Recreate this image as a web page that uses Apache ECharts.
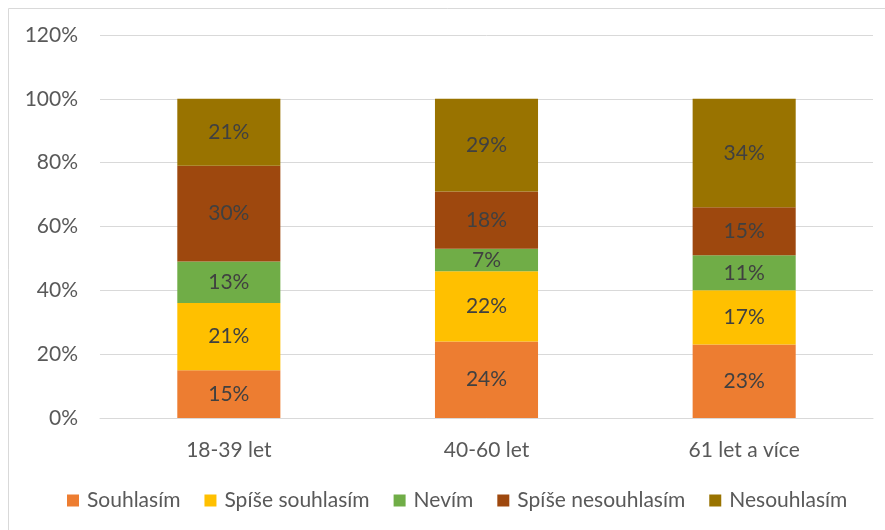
<!DOCTYPE html>
<html>
<head>
<meta charset="utf-8">
<script src="https://cdn.jsdelivr.net/npm/echarts@6/dist/echarts.min.js"></script>
<style>
  html, body { margin: 0; padding: 0; background: #fff; }
  #chart { width: 885px; height: 530px; }
</style>
</head>
<body>
<div id="chart"></div>
<script>
var categories = ["18-39 let", "40-60 let", "61 let a více"];
var seriesNames = ["Souhlasím", "Spíše souhlasím", "Nevím", "Spíše nesouhlasím", "Nesouhlasím"];
var souhlasim = [15, 24, 23];
var spiseSouhlasim = [21, 22, 17];
var nevim = [13, 7, 11];
var spiseNesouhlasim = [30, 18, 15];
var nesouhlasim = [21, 29, 34];
var colors = ["#ED7D31", "#FFC000", "#70AD47", "#9E480E", "#997300"];

var allData = [souhlasim, spiseSouhlasim, nevim, spiseNesouhlasim, nesouhlasim];
var font = "Lato, 'Open Sans', sans-serif";

var series = [];
for (var i = 0; i < seriesNames.length; i++) {
    series.push({
        name: seriesNames[i],
        type: "bar",
        stack: "total",
        barWidth: "40%",
        data: allData[i],
        itemStyle: { color: colors[i] },
        label: {
            show: true,
            position: "inside",
            formatter: "{c}%",
            color: "#404040",
            fontSize: 21,
            fontFamily: font
        }
    });
}

var chart = echarts.init(document.getElementById("chart"));
chart.setOption({
    animation: false,
    color: colors,
    grid: { left: 100, right: 12, top: 35, bottom: 112, containLabel: false },
    legend: {
        bottom: 14,
        left: 62,
        itemWidth: 12,
        itemHeight: 12,
        itemGap: 24,
        icon: "rect",
        textStyle: { color: "#595959", fontSize: 21, fontFamily: font, padding: [0, 0, 0, 3] },
        data: seriesNames
    },
    xAxis: {
        type: "category",
        data: categories,
        axisLine: { lineStyle: { color: "#d9d9d9", width: 1 } },
        axisTick: { show: false },
        axisLabel: { color: "#595959", fontSize: 21, fontFamily: font, margin: 22 }
    },
    yAxis: {
        type: "value",
        min: 0,
        max: 120,
        interval: 20,
        axisLine: { show: false },
        axisTick: { show: false },
        splitLine: { lineStyle: { color: "#d9d9d9", width: 1 } },
        axisLabel: { color: "#595959", fontSize: 21, fontFamily: font, margin: 22, formatter: "{value}%" }
    },
    graphic: [{
        type: "rect",
        shape: { x: 8.5, y: 8.5, width: 885, height: 530 },
        style: { fill: "none", stroke: "#d9d9d9", lineWidth: 1 },
        silent: true
    }],
    series: series
});
</script>
</body>
</html>
